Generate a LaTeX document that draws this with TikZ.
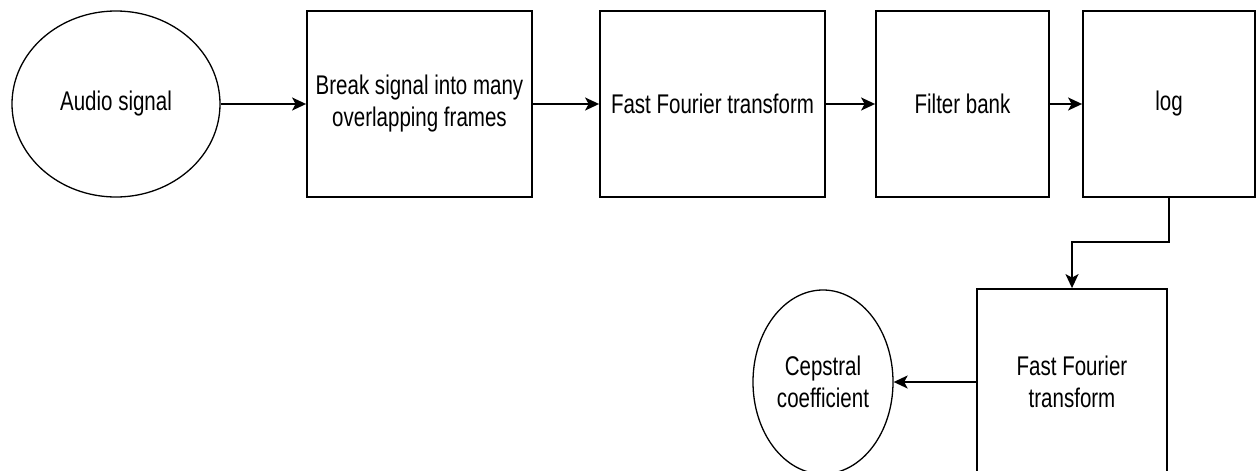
\documentclass[tikz,border=0pt]{standalone}
\usepackage{fontspec}
\setmainfont{Liberation Sans}[FakeStretch=0.76]
\usetikzlibrary{shapes.geometric,arrows.meta}
\tikzset{
  every node/.style={font=\fontsize{27}{32}\selectfont, align=center, inner sep=0pt},
  boxnode/.style={draw, line width=1.8pt, rectangle},
  ovalnode/.style={draw, line width=1.3pt, ellipse},
  conn/.style={line width=1.8pt, -{Stealth[length=14pt,width=13pt,inset=3.5pt]}}
}
\begin{document}
\begin{tikzpicture}[x=1pt,y=-1pt]
\useasboundingbox (0,0) rectangle (1256,471);
\clip (0,0) rectangle (1256,471);
\node[ovalnode, minimum width=208pt, minimum height=186pt] (audio) at (116,104) {Audio signal};
\node[boxnode, minimum width=225pt, minimum height=186pt] (frames) at (419.5,104) {Break signal into many\\overlapping frames};
\node[boxnode, minimum width=225pt, minimum height=186pt] (fft) at (712.5,104) {Fast Fourier transform};
\node[boxnode, minimum width=173pt, minimum height=186pt] (filter) at (962.5,104) {Filter bank};
\node[boxnode, minimum width=172pt, minimum height=186pt] (log) at (1169,104) {log};
\node[boxnode, minimum width=190pt, minimum height=186pt] (fft2) at (1072,382) {Fast Fourier\\transform};
\node[ovalnode, minimum width=140pt, minimum height=184pt] (ceps) at (823,382) {Cepstral\\coefficient};
\coordinate (bend1) at (1169,242);
\coordinate (bend2) at (1072,242);
\draw[conn] (audio.east) -- (frames.west);
\draw[conn] (frames.east) -- (fft.west);
\draw[conn] (fft.east) -- (filter.west);
\draw[conn] (filter.east) -- (log.west);
\draw[conn] (log.south) -- (bend1) -- (bend2) -- (fft2.north);
\draw[conn] (fft2.west) -- (ceps.east);
\end{tikzpicture}
\end{document}
